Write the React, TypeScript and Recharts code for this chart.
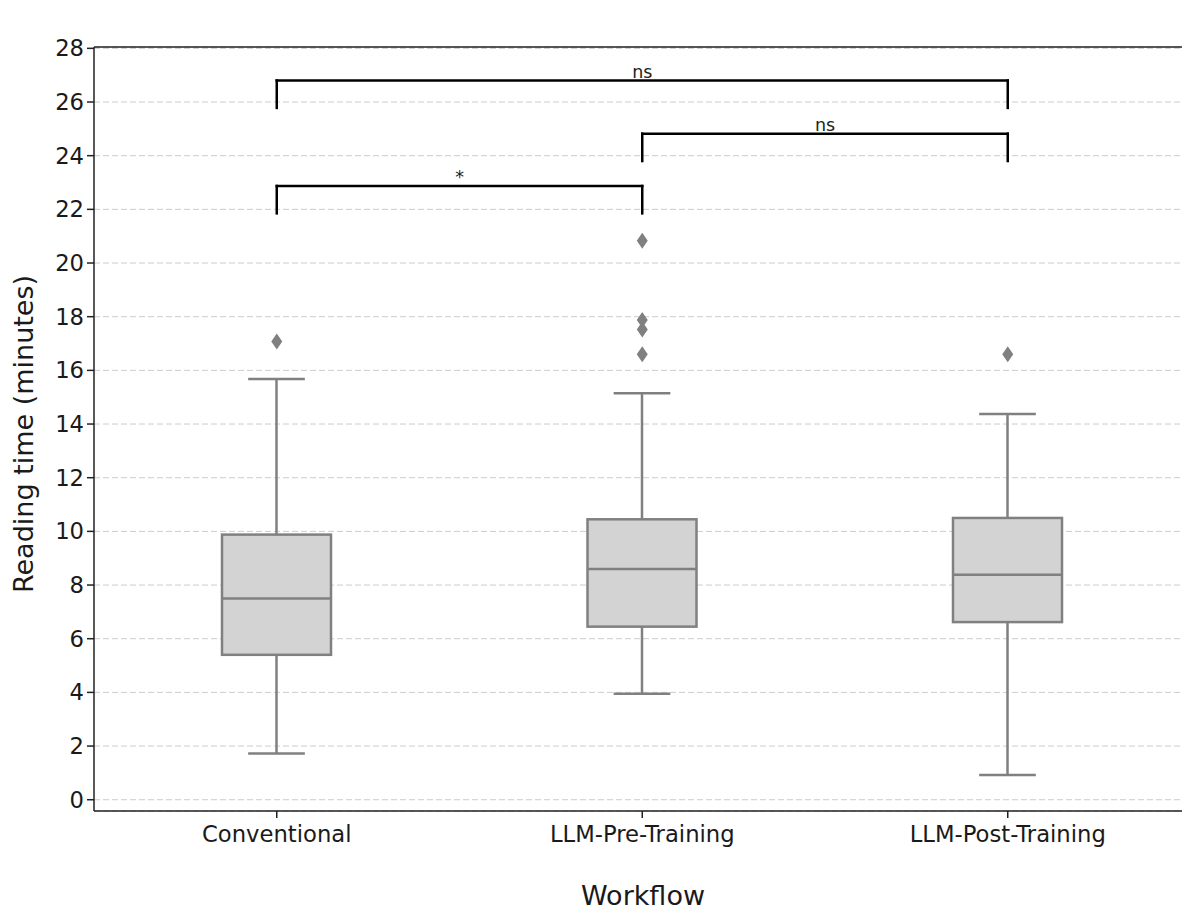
import React from 'react';
import {
  ComposedChart, Bar, Scatter, XAxis, YAxis, CartesianGrid, ReferenceLine,
} from 'recharts';

// box plot summary
const categories = ['Conventional', 'LLM-Pre-Training', 'LLM-Post-Training'];
const whiskerLow = [1.72, 3.95, 0.92];
const q1 = [5.4, 6.45, 6.62];
const median = [7.5, 8.6, 8.38];
const q3 = [9.88, 10.45, 10.5];
const whiskerHigh = [15.68, 15.15, 14.37];
const outliers = [[17.08], [20.83, 17.88, 17.52, 16.6], [16.6]];
const yTicks = [0, 2, 4, 6, 8, 10, 12, 14, 16, 18, 20, 22, 24, 26, 28];
const yDomain = [-0.42, 28.05];

// significance brackets: category indices, base height, bracket height, label
const brackets = [
  { from: 0, to: 1, y: 21.85, h: 1.02, label: '*' },
  { from: 1, to: 2, y: 23.8, h: 1.02, label: 'ns' },
  { from: 0, to: 2, y: 25.78, h: 1.02, label: 'ns' },
];

const FONT = '"DejaVu Sans", sans-serif';
const BOX_EDGE = '#808080';
const BOX_FILL = '#d3d3d3';

const boxData = categories.map((name, i) => ({
  name,
  box: [q1[i], q3[i]],
  lo: whiskerLow[i],
  q1: q1[i],
  med: median[i],
  q3: q3[i],
  hi: whiskerHigh[i],
}));

const outlierData = categories.flatMap((name, i) =>
  outliers[i].map(value => ({ name, value }))
);

function BoxShape(props: any) {
  const { x, y, width, height, payload } = props;
  if (x == null || y == null || !payload) return null;
  const top = Math.min(y, y + height);
  const h = Math.abs(height);
  const ppu = h / (payload.q3 - payload.q1);
  const toY = (v: number) => top + (payload.q3 - v) * ppu;
  const cx = x + width / 2;
  const capHalf = width * 0.26;
  const line = { stroke: BOX_EDGE, strokeWidth: 2.5 };
  return (
    <g>
      <line x1={cx} x2={cx} y1={toY(payload.q3)} y2={toY(payload.hi)} {...line} />
      <line x1={cx} x2={cx} y1={toY(payload.q1)} y2={toY(payload.lo)} {...line} />
      <line x1={cx - capHalf} x2={cx + capHalf} y1={toY(payload.hi)} y2={toY(payload.hi)} {...line} />
      <line x1={cx - capHalf} x2={cx + capHalf} y1={toY(payload.lo)} y2={toY(payload.lo)} {...line} />
      <rect x={x} y={top} width={width} height={h} fill={BOX_FILL} {...line} />
      <line x1={x} x2={x + width} y1={toY(payload.med)} y2={toY(payload.med)} {...line} />
    </g>
  );
}

function Diamond(props: any) {
  const { cx, cy } = props;
  if (cx == null || cy == null) return null;
  const w = 5.5;
  const hh = 8;
  return (
    <polygon
      points={`${cx},${cy - hh} ${cx + w},${cy} ${cx},${cy + hh} ${cx - w},${cy}`}
      fill={BOX_EDGE}
    />
  );
}

export default function App() {
  const tickStyle = { fontSize: 22.7, fill: '#1a1a1a', fontFamily: FONT };
  const bracketLines = brackets.flatMap((b, i) => {
    const a = categories[b.from];
    const c = categories[b.to];
    const yt = b.y + b.h;
    return [
      <ReferenceLine key={`l${i}`} segment={[{ x: a, y: b.y }, { x: a, y: yt }]}
        stroke="#000" strokeWidth={2.5} strokeLinecap="square" />,
      <ReferenceLine key={`r${i}`} segment={[{ x: c, y: b.y }, { x: c, y: yt }]}
        stroke="#000" strokeWidth={2.5} strokeLinecap="square" />,
      <ReferenceLine key={`h${i}`} segment={[{ x: a, y: yt }, { x: c, y: yt }]}
        stroke="#000" strokeWidth={2.5} strokeLinecap="square"
        label={{ value: b.label, position: 'top', offset: 3, fontSize: 17.5, fill: '#222', fontFamily: FONT }} />,
    ];
  });

  return (
    <div style={{ position: 'absolute', left: 0, top: 0, width: 1182, height: 910, overflow: 'hidden', background: '#fff' }}>
      <ComposedChart
        width={1200}
        height={910}
        data={boxData}
        margin={{ top: 47, right: 9.5, left: 0, bottom: 0 }}
        style={{ fontFamily: FONT }}
      >
        <CartesianGrid vertical={false} stroke="#cccccc" strokeDasharray="6 3" strokeWidth={1} />
        <XAxis
          dataKey="name"
          type="category"
          allowDuplicatedCategory={false}
          height={99}
          tick={tickStyle}
          tickSize={7}
          tickMargin={8}
          tickLine={{ stroke: '#222', strokeWidth: 1.5 }}
          axisLine={{ stroke: '#222', strokeWidth: 1.5 }}
          label={{
            content: () => (
              <text x={643} y={905} textAnchor="middle" fontSize={27} fill="#1a1a1a" fontFamily={FONT}>Workflow</text>
            ),
          }}
        />
        <XAxis
          xAxisId="top"
          dataKey="name"
          orientation="top"
          allowDuplicatedCategory={false}
          height={0}
          tick={false}
          tickLine={false}
          axisLine={false}
          label={{
            content: () => (
              <text x={643} y={35} textAnchor="middle" fontSize={27} fill="#1a1a1a" fontFamily={FONT}>Reading Time by Workflow</text>
            ),
          }}
        />
        <YAxis
          type="number"
          domain={yDomain}
          allowDataOverflow
          ticks={yTicks}
          interval={0}
          width={94}
          tick={tickStyle}
          tickSize={7}
          tickMargin={3}
          tickLine={{ stroke: '#222', strokeWidth: 1.5 }}
          axisLine={{ stroke: '#222', strokeWidth: 1.5 }}
          label={{
            content: () => (
              <text x={0} y={0} transform="translate(33 434) rotate(-90)" textAnchor="middle" fontSize={27} fill="#1a1a1a" fontFamily={FONT}>
                Reading time (minutes)
              </text>
            ),
          }}
        />
        <YAxis
          yAxisId="right"
          orientation="right"
          type="number"
          domain={yDomain}
          width={0}
          tick={false}
          tickLine={false}
          axisLine={{ stroke: '#222', strokeWidth: 1.5 }}
        />
        {/* top spine */}
        <ReferenceLine y={yDomain[1]} ifOverflow="visible" stroke="#222" strokeWidth={1.5} />
        <Bar dataKey="box" barSize={109} shape={<BoxShape />} isAnimationActive={false} />
        <Scatter data={outlierData} dataKey="value" shape={<Diamond />} isAnimationActive={false} />
        {bracketLines}
      </ComposedChart>
    </div>
  );
}
